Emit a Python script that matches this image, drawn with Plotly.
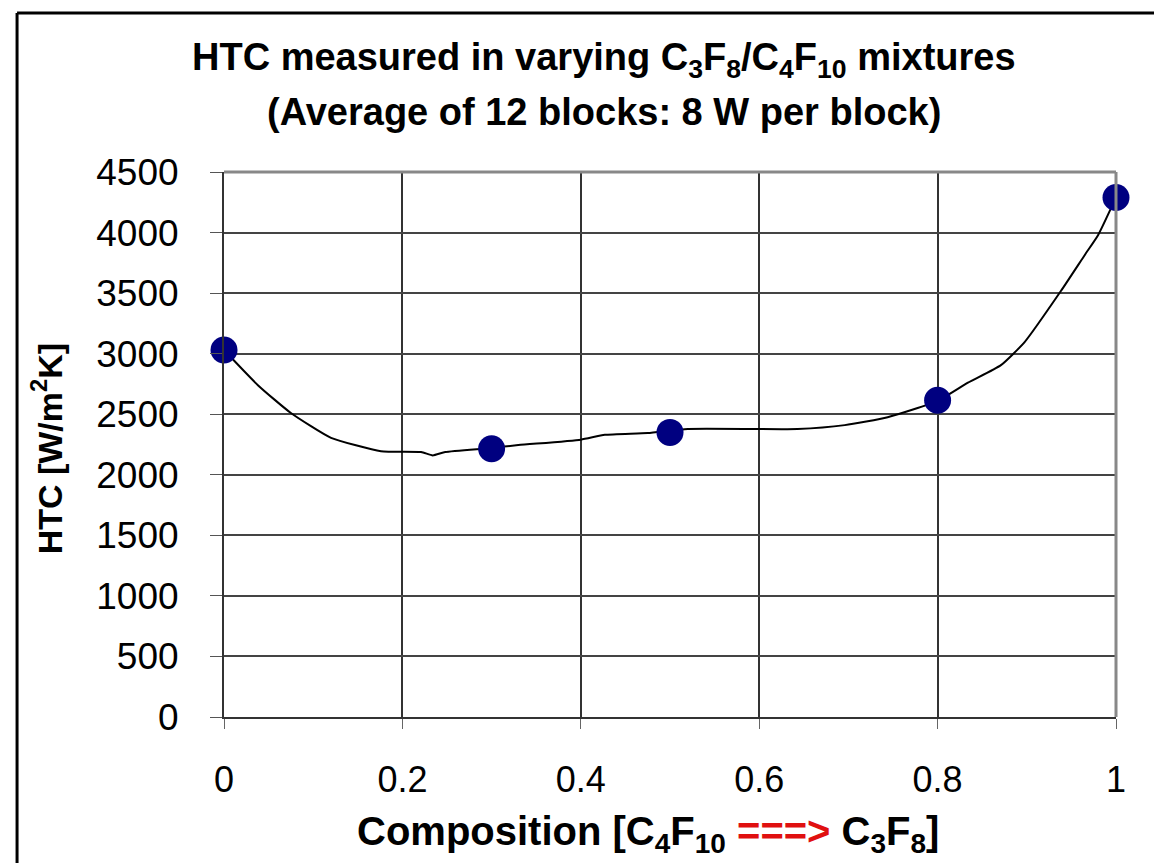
import plotly.graph_objects as go

# measured points
comp = [0, 0.3, 0.5, 0.8, 1.0]
htc = [3030, 2215, 2350, 2615, 4290]

# smoothed curve as drawn in the chart
curve_x = [0, 0.038, 0.075, 0.12, 0.176, 0.221, 0.234, 0.248, 0.298, 0.33, 0.40, 0.427,
           0.475, 0.52, 0.643, 0.696, 0.744, 0.80, 0.834, 0.871, 0.898, 0.938, 0.965, 0.98, 1.0]
curve_y = [3030, 2740, 2510, 2305, 2195, 2188, 2160, 2188, 2220, 2245, 2290, 2330,
           2345, 2378, 2378, 2410, 2475, 2610, 2760, 2905, 3100, 3515, 3815, 3980, 4290]

x_ticks = [0, 0.2, 0.4, 0.6, 0.8, 1]
x_labels = ['0', '0.2', '0.4', '0.6', '0.8', '1']
y_ticks = [0, 500, 1000, 1500, 2000, 2500, 3000, 3500, 4000, 4500]

FONT = 'Liberation Sans, Arial'

fig = go.Figure()
fig.add_trace(go.Scatter(x=curve_x, y=curve_y, mode='lines',
                         line=dict(color='black', width=2, shape='spline', smoothing=0.5),
                         hoverinfo='skip', cliponaxis=False))
fig.add_trace(go.Scatter(x=comp, y=htc, mode='markers',
                         marker=dict(color='#000080', size=27, line=dict(width=0)),
                         cliponaxis=False))

fig.update_layout(
    width=1162, height=863,
    margin=dict(l=216, r=54, t=164, b=154),
    paper_bgcolor='white', plot_bgcolor='white',
    showlegend=False,
    font=dict(family=FONT, color='black'),
)

fig.update_xaxes(range=[0, 1], tickvals=x_ticks, ticktext=x_labels,
                 showgrid=True, gridcolor='#333333', gridwidth=2,
                 showline=True, linecolor='#333333', linewidth=2, zeroline=False,
                 ticks='outside', ticklen=10, tickcolor='#666666', tickwidth=1,
                 ticklabelstandoff=20, tickfont=dict(size=36, family=FONT))
fig.update_yaxes(range=[0, 4500], tickvals=y_ticks,
                 showgrid=True, gridcolor='#444444', gridwidth=2,
                 showline=True, linecolor='#333333', linewidth=2, zeroline=False,
                 ticks='outside', ticklen=12, tickcolor='#555555', tickwidth=1,
                 ticklabelstandoff=24, tickfont=dict(size=37, family=FONT))

# top and right plot border in grey
fig.add_shape(type='line', xref='paper', yref='paper', x0=0, x1=1, y0=1, y1=1,
              line=dict(color='#888888', width=3))
fig.add_shape(type='line', xref='paper', yref='paper', x0=1, x1=1, y0=0, y1=1,
              line=dict(color='#888888', width=3))
# outer frame (left and top)
fig.add_shape(type='line', xref='paper', yref='paper', x0=-0.232, x1=-0.232, y0=-0.3, y1=1.2917,
              line=dict(color='black', width=3))
fig.add_shape(type='line', xref='paper', yref='paper', x0=-0.232, x1=1.07, y0=1.2917, y1=1.2917,
              line=dict(color='black', width=3))

bold = dict(family=FONT, size=38, color='black')
fig.add_annotation(text='<b>HTC measured in varying C<sub>3</sub>F<sub>8</sub>/C<sub>4</sub>F<sub>10</sub> mixtures</b>',
                   xref='paper', yref='paper', x=0.426, y=1.205, showarrow=False,
                   xanchor='center', yanchor='middle', font=bold)
fig.add_annotation(text='<b>(Average of 12 blocks: 8 W per block)</b>',
                   xref='paper', yref='paper', x=0.426, y=1.11, showarrow=False,
                   xanchor='center', yanchor='middle', font=bold)
fig.add_annotation(text='<b>HTC [W/m<sup>2</sup>K]</b>',
                   xref='paper', yref='paper', x=-0.198, y=0.4936, showarrow=False,
                   textangle=-90, xanchor='center', yanchor='middle',
                   font=dict(family=FONT, size=34, color='black'))
fig.add_annotation(text='<b>Composition [C<sub>4</sub>F<sub>10</sub> <span style="color:#e01010">===&gt;</span> C<sub>3</sub>F<sub>8</sub>]</b>',
                   xref='paper', yref='paper', x=0.4753, y=-0.215, showarrow=False,
                   xanchor='center', yanchor='middle', font=dict(family=FONT, size=40, color='black'))

fig.write_html('out.html')
